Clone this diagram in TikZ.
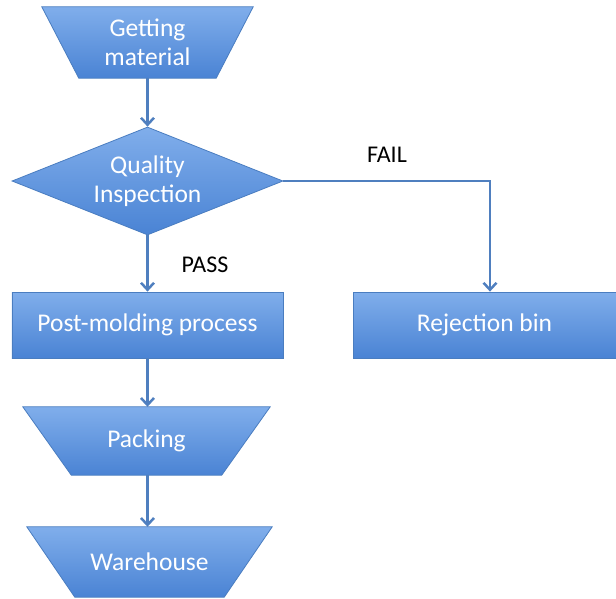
\documentclass[tikz,border=0pt]{standalone}
\usepackage{fontspec}
\setmainfont{Carlito}
\usepackage{tikz}
\usetikzlibrary{shapes.geometric,arrows.meta,positioning,backgrounds}
\definecolor{boxtop}{HTML}{80AEEB}
\definecolor{boxbot}{HTML}{4A83D4}
\definecolor{boxline}{HTML}{4A7DC0}
\definecolor{flowline}{HTML}{4F7FBF}

\begin{document}
\begin{tikzpicture}[node distance=120pt,on grid,
  font=\fontsize{25.5}{29}\selectfont,
  every node/.style={text=white,align=center},
  blue box/.style={draw=boxline,line width=0.8pt,top color=boxtop,bottom color=boxbot},
  process/.style={blue box,rectangle,minimum height=66pt,inner sep=0pt},
  decision/.style={blue box,diamond,aspect=2.5,inner sep=0pt,minimum width=271pt,minimum height=108pt},
  merge/.style={rectangle,inner sep=0pt},
  label text/.style={text=black,font=\fontsize{24}{29}\selectfont},
  >={Straight Barb[length=7pt,width=13pt]}]
\useasboundingbox (-147.5pt,42.5pt) rectangle (468.5pt,-555.5pt);
\node[merge,minimum width=211pt,minimum height=71pt] (getting) at (0,0) {Getting\\material};
\node[decision] (quality) [below of=getting,node distance=138.5pt] {Quality\\Inspection};
\node[process,minimum width=271pt] (post) [below of=quality,node distance=144pt] {Post-molding process};
\node[process,minimum width=263pt] (reject) [right of=post,node distance=337pt] {Rejection bin};
\node[merge,minimum width=247pt,minimum height=68pt] (packing) [below of=post,node distance=116pt,xshift=-1pt] {Packing};
\node[merge,minimum width=245pt,minimum height=70pt] (warehouse) [below of=packing,node distance=121pt,xshift=3pt] {Warehouse};
\node[label text] (fail) at (239.5pt,-112.5pt) {FAIL};
\node[label text] (pass) at (57.5pt,-222.5pt) {PASS};
% funnel outlines behind the merge nodes
\begin{scope}[on background layer]
\path[blue box] (getting.north west) -- (getting.north east) -- ([xshift=-37pt]getting.south east) -- ([xshift=37pt]getting.south west) -- cycle;
\path[blue box] (packing.north west) -- (packing.north east) -- ([xshift=-48.5pt]packing.south east) -- ([xshift=48.5pt]packing.south west) -- cycle;
\path[blue box] (warehouse.north west) -- (warehouse.north east) -- ([xshift=-48pt]warehouse.south east) -- ([xshift=48pt]warehouse.south west) -- cycle;
\end{scope}
\path[->,color=flowline,line width=2.5pt]
  (getting) edge (quality)
  (quality) edge (post)
  (post) edge (packing.north -| post.south)
  (packing.south -| post.south) edge (warehouse.north -| post.south);
\draw[->,flowline,line width=2.5pt] (quality.east) -| ([xshift=5.5pt]reject.north);
\end{tikzpicture}
\end{document}
